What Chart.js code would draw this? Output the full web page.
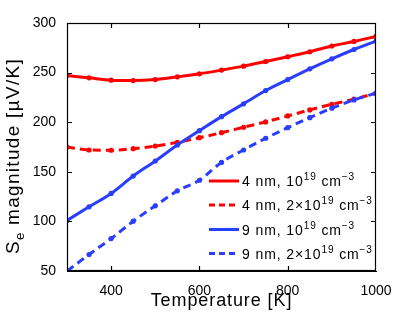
<!DOCTYPE html>
<html lang="en">
<head>
  <meta charset="UTF-8" />
  <title>Se magnitude vs temperature</title>
  <script src="https://cdn.jsdelivr.net/npm/chart.js"></script>
  <style>
    html, body { margin: 0; padding: 0; background: #fff; }
    canvas { display: block; }
  </style>
</head>
<body>
  <canvas id="myChart" width="415" height="312"></canvas>

  <script>
    // data
    const temps = [300, 350, 400, 450, 500, 550, 600, 650, 700, 750, 800, 850, 900, 950, 1000];
    const nm4Low  = [247.0, 244.7, 242.4, 242.0, 243.0, 245.7, 248.8, 252.5, 256.5, 261.2, 266.0, 271.0, 276.8, 281.4, 286.5];
    const nm4High = [175.0, 172.0, 171.7, 173.3, 176.0, 179.7, 184.4, 189.4, 194.9, 200.3, 206.3, 212.4, 218.1, 223.2, 229.3];
    const nm9Low  = [101.0, 114.7, 128.2, 145.7, 160.9, 177.0, 191.5, 205.6, 218.5, 231.9, 243.0, 253.8, 263.9, 273.3, 281.8];
    const nm9High = [50.0, 66.6, 82.7, 100.2, 115.7, 130.8, 141.5, 159.5, 172.0, 183.8, 194.5, 204.6, 214.1, 222.5, 229.3];
    const xTicks = [400, 600, 800, 1000];
    const yTicks = [50, 100, 150, 200, 250, 300];

    const RED = '#ff0000';
    const BLUE = '#2a3eff';
    const FONT = '"Liberation Sans", Arial, Helvetica, sans-serif';

    const legendItems = [
      { color: RED,  dash: [],     pre: '4 nm, 10' },
      { color: RED,  dash: [6, 4], pre: '4 nm, 2\u00d710' },
      { color: BLUE, dash: [],     pre: '9 nm, 10' },
      { color: BLUE, dash: [6, 4], pre: '9 nm, 2\u00d710' }
    ];

    const toPoints = arr => temps.map((t, i) => ({ x: t, y: arr[i] }));

    function series(values, color, dashed, order) {
      return {
        data: toPoints(values),
        borderColor: color,
        backgroundColor: color,
        borderWidth: 3,
        borderDash: dashed ? [8, 5] : [],
        pointRadius: 2.6,
        pointBorderWidth: 0,
        pointBackgroundColor: color,
        cubicInterpolationMode: 'monotone',
        fill: false,
        order: order
      };
    }

    // frame, inward ticks, axis titles and legend
    const decorations = {
      id: 'decorations',
      afterDraw(chart) {
        const c = chart.ctx;
        const a = chart.chartArea;
        const sx = chart.scales.x, sy = chart.scales.y;
        c.save();
        c.globalAlpha = 1;
        c.globalCompositeOperation = 'source-over';
        c.strokeStyle = '#000000';
        c.lineWidth = 1.2;
        c.setLineDash([]);
        c.strokeRect(a.left + 0.5, a.top + 0.5, a.width - 1, a.height - 1);
        c.beginPath();
        xTicks.forEach(v => {
          const px = Math.round(sx.getPixelForValue(v)) + 0.5;
          if (px > a.right - 3) return;
          c.moveTo(px, a.bottom); c.lineTo(px, a.bottom - 5);
          c.moveTo(px, a.top); c.lineTo(px, a.top + 5);
        });
        yTicks.forEach(v => {
          const py = Math.round(sy.getPixelForValue(v)) + 0.5;
          if (py < a.top + 3 || py > a.bottom - 3) return;
          c.moveTo(a.left, py); c.lineTo(a.left + 5, py);
          c.moveTo(a.right, py); c.lineTo(a.right - 5, py);
        });
        c.stroke();

        // x title
        c.fillStyle = '#000';
        c.font = '18px ' + FONT;
        c.letterSpacing = '0.9px';
        c.textAlign = 'center';
        c.textBaseline = 'alphabetic';
        c.fillText('Temperature [K]', (a.left + a.right) / 2, 306);

        // y title with subscript
        c.save();
        c.translate(19, 156);
        c.rotate(-Math.PI / 2);
        c.textAlign = 'left';
        c.letterSpacing = '1.3px';
        const big = '19px ' + FONT, small = '13px ' + FONT;
        c.font = big;
        const wS = c.measureText('S').width;
        const wRest = c.measureText(' magnitude [\u00b5V/K]').width;
        c.font = small;
        const wE = c.measureText('e').width;
        let x = -(wS + wE + wRest) / 2;
        c.font = big;
        c.fillText('S', x, 0); x += wS;
        c.font = small;
        c.fillText('e', x, 5); x += wE;
        c.font = big;
        c.fillText(' magnitude [\u00b5V/K]', x, 0);
        c.restore();

        // legend
        const lx0 = 209, lx1 = 239, tx = 242;
        const rows = [181, 205, 229.5, 253.5];
        c.textAlign = 'left';
        c.letterSpacing = '0.9px';
        legendItems.forEach((it, i) => {
          const y = rows[i];
          c.strokeStyle = it.color;
          c.lineWidth = 3;
          c.setLineDash(it.dash);
          c.beginPath();
          c.moveTo(lx0, y); c.lineTo(lx1, y);
          c.stroke();
          c.setLineDash([]);

          c.fillStyle = '#000';
          const base = y + 5;
          let x = tx;
          c.font = '14px ' + FONT;
          c.fillText(it.pre, x, base); x += c.measureText(it.pre).width;
          c.font = '10px ' + FONT;
          c.fillText('19', x, base - 6); x += c.measureText('19').width;
          c.font = '14px ' + FONT;
          c.fillText(' cm', x, base); x += c.measureText(' cm').width;
          c.font = '10px ' + FONT;
          c.fillText('\u22123', x, base - 6);
        });
        c.restore();
      }
    };

    const ctx = document.getElementById('myChart').getContext('2d');

    const myChart = new Chart(ctx, {
      type: 'line',
      data: {
        datasets: [
          series(nm4Low, RED, false, 3),
          series(nm4High, RED, true, 2),
          series(nm9Low, BLUE, false, 1),
          series(nm9High, BLUE, true, 0)
        ]
      },
      options: {
        responsive: false,
        animation: false,
        devicePixelRatio: 1,
        layout: { padding: { left: 0, top: 23, right: 39, bottom: 0 } },
        plugins: { legend: { display: false }, tooltip: { enabled: false } },
        scales: {
          x: {
            type: 'linear',
            min: 300,
            max: 1000,
            grid: { display: false },
            border: { display: true, color: '#000', width: 1 },
            afterBuildTicks: s => { s.ticks = xTicks.map(v => ({ value: v })); },
            afterFit: s => { s.height = 41; },
            ticks: {
              color: '#000', font: { family: FONT, size: 14 }, padding: 4, maxRotation: 0,
              callback: v => String(v)
            }
          },
          y: {
            min: 50,
            max: 300,
            grid: { display: false },
            border: { display: true, color: '#000', width: 1 },
            afterBuildTicks: s => { s.ticks = yTicks.map(v => ({ value: v })); },
            afterFit: s => { s.width = 67; },
            ticks: { color: '#000', font: { family: FONT, size: 14 }, padding: 3, callback: v => String(v) }
          }
        }
      },
      plugins: [decorations]
    });
  </script>
</body>
</html>
